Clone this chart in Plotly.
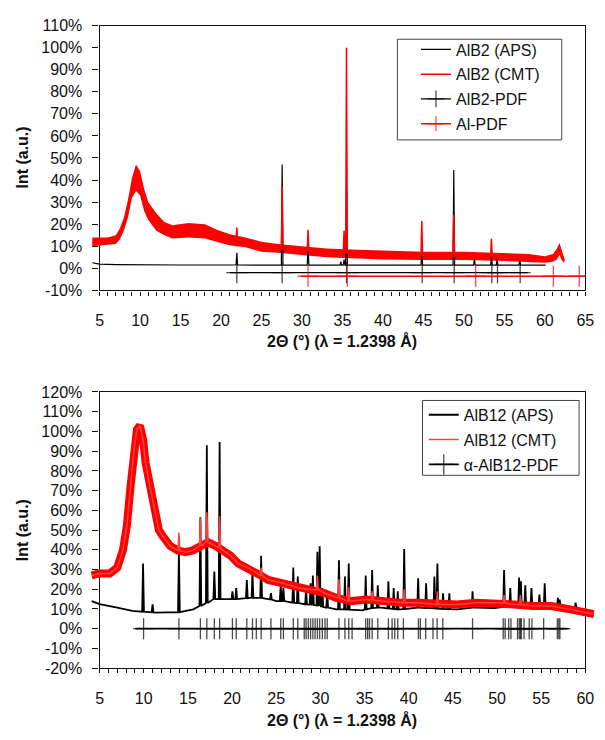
import plotly.graph_objects as go

# ---------------- Top panel: AlB2 ----------------
alb2_aps_bg_x = [4.1, 5, 7, 10, 15, 20, 25, 30, 35, 40, 45, 50, 55, 60.1]
alb2_aps_bg_y = [2.5, 1.9, 1.7, 1.5, 1.5, 1.5, 1.4, 1.4, 1.4, 1.4, 1.4, 1.4, 1.4, 1.4]
alb2_aps_pk_x = [21.95, 27.55, 30.75, 34.8, 35.2, 35.5, 44.8, 48.75, 51.3, 53.4, 54.1, 56.9]
alb2_aps_pk_top = [7, 47, 10, 3, 4, 38, 7.5, 44.6, 4.3, 5.5, 4, 3.7]
alb2_aps_pk_base = [1.5, 1.4, 1.4, 1.4, 1.4, 1.4, 1.4, 1.4, 1.4, 1.4, 1.4, 1.4]

alb2_cmt_bg_x = [4.1, 5, 6, 7, 7.5, 8, 8.5, 9, 9.5, 10, 10.5, 11, 12, 13, 14, 16, 18, 19.5,
                 21, 23, 25, 27, 30, 33, 36, 40, 45, 50, 55, 58, 60, 61, 61.5, 61.8, 62.1, 62.4]
alb2_cmt_bg_y = [12, 12, 12, 13, 15, 20, 27, 36, 41, 38.5, 31, 26, 21, 18, 16.5, 17, 16.5, 15,
                 13, 12, 10, 9, 8, 7, 6.5, 6, 5.7, 5.5, 5, 4.5, 4, 4.5, 7, 10, 6, 3.5]
alb2_cmt_pk_x = [21.95, 27.55, 30.75, 35.2, 35.5, 44.8, 48.75, 53.4]
alb2_cmt_pk_top = [18.5, 37, 17.5, 17, 100, 21.4, 24.4, 13.4]
alb2_cmt_pk_base = [12.5, 9, 8, 7, 7, 5.7, 5.6, 5.3]

# noisy band of the CMT pattern (lower / upper edge)
alb2_band_x = [4.1, 6, 7, 7.5, 8, 8.5, 9, 9.5, 10, 10.5, 11, 12, 13, 14, 16, 18, 19.5, 21, 23,
               25, 27, 30, 33, 36, 40, 45, 50, 55, 58, 60, 61, 61.5, 61.8, 62.1, 62.4]
alb2_band_lo = [10, 10.5, 11, 13, 17, 23, 32, 35, 33, 26, 22, 17, 15, 13.5, 14, 13.5, 12, 10.5, 9.5,
                7.5, 7, 6, 5, 4.5, 4, 3.8, 3.8, 3.3, 3, 2.5, 3, 4, 6, 3.5, 2.5]
alb2_band_hi = [14, 14, 15, 18, 23, 31, 41, 47, 44, 36, 30, 25, 21, 19.5, 20.5, 20, 17.5, 15.5, 14,
                12, 11, 10, 9, 8.5, 8, 7.5, 7.5, 7, 6.5, 5.5, 6.5, 9, 11.5, 8, 4.5]

alb2_pdf_pos = [21.95, 27.55, 35.5, 44.85, 48.8, 53.45, 54.15, 56.95]
alb2_pdf_span = [21.1, 57.9]
alb2_pdf_level = -2.0
al_pdf_pos = [30.75, 35.6, 51.45, 61.05, 64.25]
al_pdf_span = [29.9, 65.0]
al_pdf_level = -3.6

# ---------------- Bottom panel: AlB12 ----------------
alb12_aps_bg_x = [4.1, 5, 7, 8.7, 11.3, 13.4, 15.6, 16.4, 18.1, 19.8, 22, 23.2, 25, 26.7, 28.4,
                  30.5, 31.8, 32.7, 34.8, 36.9, 39.1, 41.2, 43.3, 45.5, 47.6, 49.7, 51.9, 54,
                  56.2, 58.3, 60.2]
alb12_aps_bg_y = [14, 12.5, 10.7, 9, 8.2, 8.2, 9.8, 11.5, 15, 15, 15.6, 15.6, 14, 13.2, 12.3,
                  10.7, 9.8, 9.8, 9.3, 10.7, 9.8, 10.7, 10.2, 9.8, 10.7, 10.5, 11.5, 11.5,
                  11.5, 10.7, 9]
alb12_aps_pk_x = [9.92, 11.0, 13.98, 16.41, 17.14, 17.99, 18.59, 20.04, 20.47, 21.67, 22.31, 23.29,
                  24.40, 25.51, 25.81, 26.93, 27.44, 28.38, 28.89, 29.15, 29.66, 29.92, 30.22,
                  30.77, 32.10, 32.78, 33.21, 35.13, 35.86, 36.50, 37.70, 38.30, 38.76, 39.49,
                  41.07, 41.97, 42.91, 43.25, 43.89, 44.6, 47.23, 50.8, 51.5, 52.5, 52.7, 53.2,
                  53.9, 54.8, 55.4, 56.9, 57.1, 58.9]
alb12_aps_pk_top = [33, 12.3, 39, 56.5, 93, 29, 94.7, 19, 20.6, 24.7, 29, 37,
                    18, 22, 20.6, 31, 26.4, 20.6, 23, 27, 39, 41.8, 20.6,
                    19, 34.7, 26.4, 33, 27, 29.7, 22, 24, 20.6, 19, 40.4,
                    25.6, 23, 26.4, 33, 18, 18, 19, 29.7, 20.6, 25.9, 24, 22,
                    20.6, 17.3, 23, 15.6, 14.8, 13.2]
alb12_aps_pk_base = [8.6, 8.3, 8.4, 11.5, 13, 15, 15, 15, 15, 15.5, 15.6, 15.6,
                     14.8, 14, 14, 13.2, 13, 12.3, 12.2, 12, 11.8, 11.6, 11,
                     10.7, 9.8, 9.8, 9.7, 9.8, 10.5, 10.7, 10.3, 10, 9.8, 10,
                     10.7, 10.5, 10.3, 10.2, 10, 9.9, 10.7, 11, 11.3, 11.5, 11.5, 11.5,
                     11.5, 11.5, 11.5, 11.2, 11, 10.5]

alb12_cmt_bg_x = [4.1, 5, 6.15, 7.0, 7.65, 8.08, 8.5, 8.93, 9.23, 9.57, 9.92, 10.21, 10.64, 11.28,
                  11.71, 12.14, 12.99, 13.85, 14.70, 15.56, 16.41, 17.27, 18.12, 18.98, 19.83,
                  20.69, 21.97, 23.25, 24.10, 25.81, 27.52, 29.23, 30.52, 31.80, 33.51, 35.22,
                  36.93, 39.06, 41.20, 43.34, 45.47, 47.61, 49.75, 51.89, 54.02, 56.16, 58.30,
                  60.0, 61.0]
alb12_cmt_bg_y = [27, 28, 28, 31, 40, 52, 72, 92, 101, 103, 96, 84, 73.6, 58.7,
                  50, 47, 42, 39.7, 38.8, 39.7, 42, 43.8, 42, 39.7, 37,
                  33, 30.5, 27, 24.7, 23, 20.6, 19.8, 18, 15.6, 14, 14.8,
                  14, 13.2, 13.2, 12.3, 12.3, 13.2, 13.2, 12.3, 11.5, 11.5, 9.8,
                  8.2, 7.4]
alb12_cmt_pk_x = [13.98, 16.41, 17.14, 18.59, 23.29, 29.66, 32.1, 33.21, 35.86, 39.49, 43.25, 50.8, 52.65]
alb12_cmt_pk_top = [48.8, 56, 59, 57, 31, 27, 25, 21, 19, 20, 19, 17, 17]
alb12_cmt_pk_base = [39.7, 42, 43.8, 41, 27, 19.8, 15.6, 14, 14.5, 13.2, 12.3, 13, 12.3]

alb12_pdf_pos = [9.98, 13.98, 16.41, 17.14, 17.99, 18.59, 20.04, 20.47, 21.67, 22.31, 22.74, 23.29,
                 24.40, 25.51, 25.81, 26.93, 27.44, 28.17, 28.38, 28.63, 28.89, 29.15, 29.40,
                 29.66, 29.92, 30.22, 30.52, 30.77, 32.10, 32.78, 33.21, 33.59, 35.13, 35.35,
                 35.56, 35.86, 36.50, 37.70, 38.12, 38.42, 38.76, 39.40, 41.10, 41.32, 41.93,
                 42.75, 43.22, 43.86, 47.23, 50.70, 50.92, 51.32, 51.58, 52.32, 52.51, 52.65,
                 52.76, 53.06, 53.65, 53.95, 55.28, 56.83, 57.00, 57.12]
alb12_pdf_span = [9.05, 57.9]
alb12_pdf_level = 0.0

top_yticks = list(range(-10, 111, 10))
bot_yticks = list(range(-20, 121, 10))
top_xticks = list(range(5, 66, 5))
bot_xticks = list(range(5, 61, 5))

FONT = "Liberation Sans"
W, H = 605, 740


def spiky(bg_x, bg_y, pk_x, pk_top, pk_base, hw=0.1):
    pts = [(x, y) for x, y in zip(bg_x, bg_y) if all(abs(x - p) > hw for p in pk_x)]
    for p, t, b in zip(pk_x, pk_top, pk_base):
        pts += [(p - hw, b), (p, t), (p + hw, b)]
    pts.sort(key=lambda q: q[0])
    return [q[0] for q in pts], [q[1] for q in pts]


def pdf_trace(pos, span, level, color, name, xa, ya, legend, size, lw):
    xs = [span[0]] + list(pos) + [span[1]]
    ys = [level] * len(xs)
    sizes = [0] + [size] * len(pos) + [0]
    return go.Scatter(x=xs, y=ys, mode="lines+markers", name=name, xaxis=xa, yaxis=ya,
                      legend=legend, legendgroup=name,
                      line=dict(color=color, width=lw),
                      marker=dict(symbol="cross-thin", size=sizes, color=color,
                                  line=dict(color=color, width=1.3)))


fig = go.Figure()

# ---- top traces (data on x3 / y, pdf on x / y)
fig.add_trace(go.Scatter(x=alb2_band_x, y=alb2_band_hi, mode="lines", line=dict(width=0, color="red"),
                         xaxis="x3", yaxis="y", showlegend=False, hoverinfo="skip"))
fig.add_trace(go.Scatter(x=alb2_band_x, y=alb2_band_lo, mode="lines", line=dict(width=0, color="red"),
                         fill="tonexty", fillcolor="#ff0000",
                         xaxis="x3", yaxis="y", showlegend=False, hoverinfo="skip"))
ax, ay = spiky(alb2_aps_bg_x, alb2_aps_bg_y, alb2_aps_pk_x, alb2_aps_pk_top, alb2_aps_pk_base)
cx, cy = spiky(alb2_cmt_bg_x, alb2_cmt_bg_y, alb2_cmt_pk_x, alb2_cmt_pk_top, alb2_cmt_pk_base)
fig.add_trace(go.Scatter(x=ax, y=ay, mode="lines", name="AlB2 (APS)", xaxis="x3", yaxis="y",
                         legend="legend", legendgroup="a1", line=dict(color="black", width=1.2)))
fig.add_trace(go.Scatter(x=cx, y=cy, mode="lines", name="AlB2 (CMT)", xaxis="x3", yaxis="y",
                         legend="legend", legendgroup="a2", line=dict(color="red", width=1.5)))
fig.add_trace(pdf_trace(alb2_pdf_pos, alb2_pdf_span, alb2_pdf_level, "black", "AlB2-PDF",
                        "x", "y", "legend", 15, 1.3))
fig.add_trace(pdf_trace(al_pdf_pos, al_pdf_span, al_pdf_level, "red", "Al-PDF",
                        "x", "y", "legend", 15, 1.3))

# ---- bottom traces (data on x4 / y2, pdf on x2 / y2)
bx, by = spiky(alb12_aps_bg_x, alb12_aps_bg_y, alb12_aps_pk_x, alb12_aps_pk_top, alb12_aps_pk_base)
rx, ry = spiky(alb12_cmt_bg_x, alb12_cmt_bg_y, alb12_cmt_pk_x, alb12_cmt_pk_top, alb12_cmt_pk_base)
fig.add_trace(go.Scatter(x=bx, y=by, mode="lines", name="AlB12 (APS)", xaxis="x4", yaxis="y2",
                         legend="legend2", legendgroup="b1", line=dict(color="black", width=1.8)))
fig.add_trace(go.Scatter(x=alb12_cmt_bg_x, y=alb12_cmt_bg_y, mode="lines", xaxis="x4", yaxis="y2",
                         showlegend=False, hoverinfo="skip", line=dict(color="red", width=8)))
fig.add_trace(go.Scatter(x=rx, y=ry, mode="lines", name="AlB12 (CMT)", xaxis="x4", yaxis="y2",
                         legend="legend2", legendgroup="b2", line=dict(color="#ff4040", width=1.5)))
fig.add_trace(pdf_trace(alb12_pdf_pos, alb12_pdf_span, alb12_pdf_level, "black", "α-AlB12-PDF",
                        "x2", "y2", "legend2", 15, 1.7))

# ---- geometry (pixel positions measured on the reference)
X0, X1 = 97.7 / W, 594.1 / W
top_dom = [1 - 289 / H, 1 - 18 / H]
bot_dom = [1 - 675.7 / H, 1 - 393 / H]
u_top = (X1 - X0) / 60.0
u_bot = (X1 - X0) / 55.0

axis_common = dict(showline=True, linecolor="#111", linewidth=1.3, mirror=True,
                   showgrid=False, zeroline=False, ticks="outside", tickcolor="#111",
                   tickfont=dict(family=FONT, size=16, color="#111"))

legend_common = dict(xanchor="left", yanchor="top", borderwidth=0, bgcolor="rgba(0,0,0,0)",
                     font=dict(family=FONT, size=16, color="#111"),
                     traceorder="grouped", tracegroupgap=1)

xminor = dict(dtick=1, ticklen=4, ticks="outside", tickcolor="#111")

fig.update_layout(
    width=W, height=H, margin=dict(l=0, r=0, t=0, b=0),
    paper_bgcolor="white", plot_bgcolor="rgba(0,0,0,0)",
    xaxis=dict(domain=[X0, X1], range=[5, 65], anchor="y", tickvals=top_xticks,
               ticklen=4, ticklabelstandoff=11, minor=xminor, **axis_common),
    yaxis=dict(domain=top_dom, range=[-10, 110], anchor="x", tickvals=top_yticks,
               ticktext=[f"{v}%" for v in top_yticks], ticklen=6, ticklabelstandoff=7,
               **axis_common),
    xaxis2=dict(domain=[X0, X1], range=[5, 60], anchor="y2", tickvals=bot_xticks,
                ticklen=4, ticklabelstandoff=11, minor=xminor, **axis_common),
    yaxis2=dict(domain=bot_dom, range=[-20, 120], anchor="x2", tickvals=bot_yticks,
                ticktext=[f"{v}%" for v in bot_yticks], ticklen=6, ticklabelstandoff=7,
                **axis_common),
    xaxis3=dict(domain=[X0 - u_top, X1], range=[4, 65], anchor="y", visible=False),
    xaxis4=dict(domain=[X0 - u_bot, X1 + u_bot], range=[4, 61], anchor="y2", visible=False),
    legend=dict(x=421 / W, y=1 - 25 / H, **legend_common),
    legend2=dict(x=429 / W, y=1 - 399 / H, **legend_common),
    showlegend=True,
)

# legend frames
for (lx0, ly0, lx1, ly1) in [(402, 32, 570, 135), (427.7, 401.7, 587.7, 478.3)]:
    fig.add_shape(type="rect", xref="paper", yref="paper",
                  x0=lx0 / W, x1=lx1 / W, y0=1 - ly1 / H, y1=1 - ly0 / H,
                  line=dict(color="#444", width=1), fillcolor="white", layer="below")

title_font = dict(family=FONT, size=16, color="#111", weight="bold")
xt = "2Θ (°) (λ = 1.2398 Å)"
fig.add_annotation(text=xt, x=(X0 + X1) / 2, y=1 - 341 / H, xref="paper", yref="paper",
                   showarrow=False, font=title_font, xanchor="center", yanchor="middle")
fig.add_annotation(text=xt, x=(X0 + X1) / 2, y=1 - 729 / H, xref="paper", yref="paper",
                   showarrow=False, font=title_font, xanchor="center", yanchor="middle")
for yc in [153.5, 535]:
    fig.add_annotation(text="Int (a.u.)", x=19 / W, y=1 - yc / H, xref="paper", yref="paper",
                       showarrow=False, font=title_font, textangle=-90,
                       xanchor="center", yanchor="middle")

fig.write_html("out.html", config={"displayModeBar": False},
               post_script="document.body.style.margin='0';")
